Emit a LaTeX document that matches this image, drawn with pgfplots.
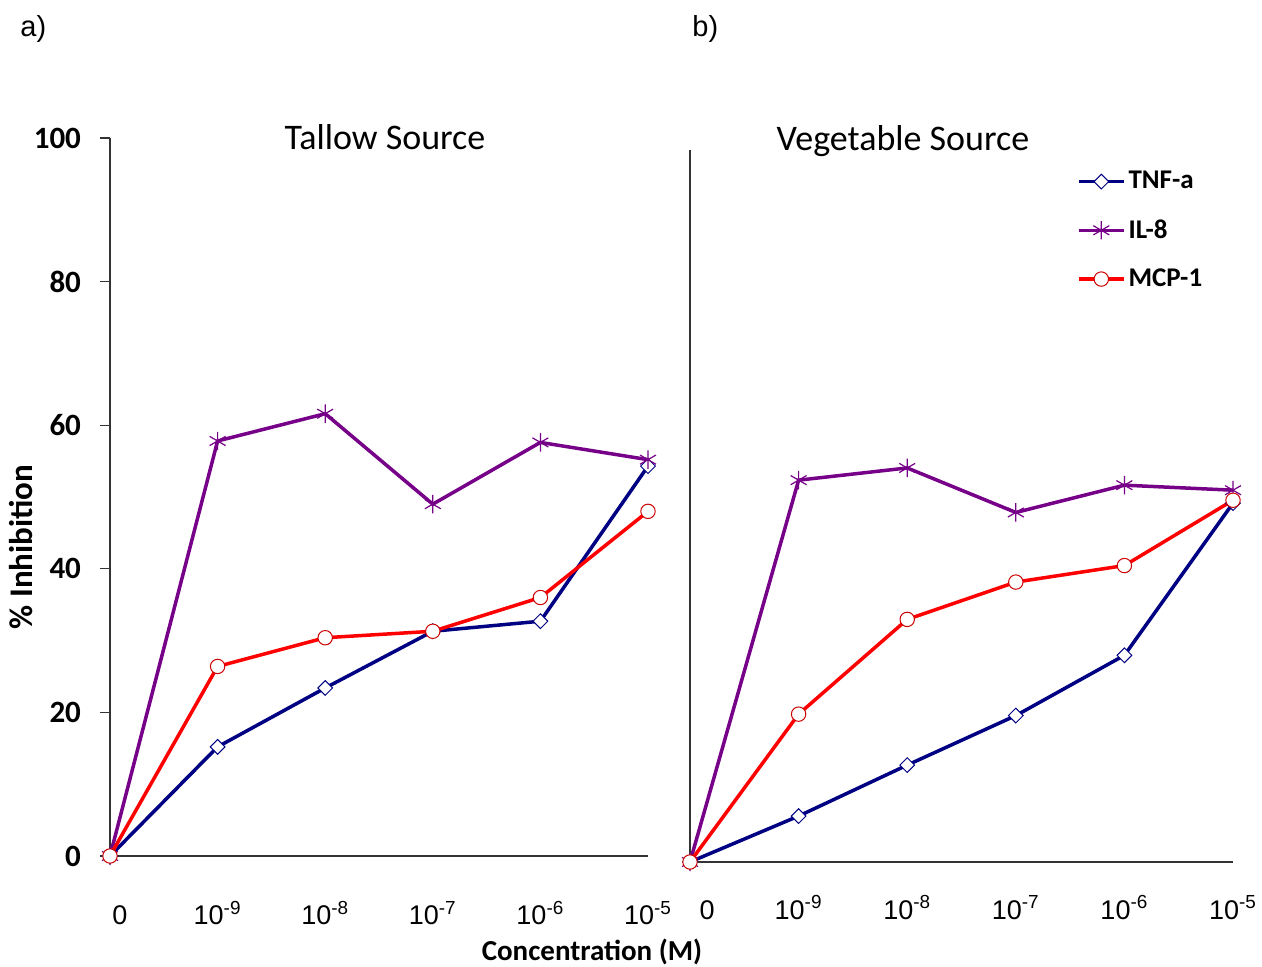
\documentclass[border=0pt]{standalone}
\usepackage{pgfplots}
\pgfplotsset{compat=1.18}
\usepackage{fontspec}
\setmainfont{Carlito}
\newfontfamily\arial{Liberation Sans}
\definecolor{tnf}{RGB}{0,0,130}
\definecolor{ilc}{RGB}{118,0,136}
\definecolor{mcp}{RGB}{255,0,0}

\pgfplotsset{
  panel/.style={
    scale only axis, anchor=south west,
    xmin=0, xmax=5, ymin=0,
    axis x line=bottom, axis y line=left,
    axis line style={-, draw=black!80, line width=0.6pt},
    clip=false,
    xtick={0,...,5},
    major x tick style={draw=none},
    xticklabel style={font=\arial\fontsize{13.5}{15}\selectfont, anchor=base, yshift=-29.5pt},
  },
  tnfs/.style={tnf, line width=1.75pt, mark=square*, mark size=2.6pt,
    mark options={rotate=45, fill=white, draw=tnf, line width=0.5pt}},
  ils/.style={ilc, line width=1.75pt, mark=asterisk, mark size=4.6pt,
    mark options={draw=ilc, line width=0.6pt}},
  mcps/.style={mcp, line width=1.75pt, mark=*, mark size=3.6pt,
    mark options={fill=white, draw=mcp!80!black, line width=0.5pt}},
}

\begin{document}
\begin{tikzpicture}
\path (0,0) rectangle (631pt,483.5pt);

% ---------- a) Tallow source ----------
\begin{axis}[panel,
  at={(55pt,55.5pt)},
  width=269pt, height=359pt,
  ymax=100,
  ytick={0,20,...,100},
  tick align=outside, major tick length=5pt,
  major y tick style={draw=black!80, line width=0.6pt},
  yticklabel style={font=\bfseries\fontsize{15.5}{16}\selectfont, /pgf/number format/assume math mode=true, xshift=-6pt},
  xticklabels={\hspace*{10pt}0, 10\textsuperscript{-9}, 10\textsuperscript{-8}, 10\textsuperscript{-7}, 10\textsuperscript{-6}, 10\textsuperscript{-5}},
]
\addplot[tnfs] coordinates {(0,0) (1,15.2) (2,23.4) (3,31.3) (4,32.7) (5,54.3)};
\addplot[ils] coordinates {(0,0) (1,57.8) (2,61.6) (3,49.0) (4,57.6) (5,55.2)};
\addplot[mcps] coordinates {(0,0) (1,26.4) (2,30.4) (3,31.3) (4,36.0) (5,48.0)};
\end{axis}

% ---------- b) Vegetable source ----------
\begin{axis}[panel,
  at={(345pt,52.5pt)},
  width=271.5pt, height=356pt,
  ymax=99.2,
  ytick=\empty,
  xticklabel style={yshift=3pt},
  xticklabels={\hspace*{17pt}0, 10\textsuperscript{-9}, 10\textsuperscript{-8}, 10\textsuperscript{-7}, 10\textsuperscript{-6}, 10\textsuperscript{-5}},
  legend style={draw=none, fill=none, at={(axis cs:3.564,96.5)}, anchor=north west,
    inner sep=0pt, outer sep=0pt,
    font=\bfseries\fontsize{13.5}{14}\selectfont,
    nodes={inner xsep=1.5pt, inner ysep=1pt},
    row sep=11.8pt},
  legend cell align=left,
  legend image code/.code={\draw[mark repeat=2,mark phase=2,#1] plot coordinates {(0pt,0pt) (11.25pt,0pt) (22.5pt,0pt)};},
]
\addplot[tnfs] coordinates {(0,0) (1,6.4) (2,13.5) (3,20.4) (4,28.8) (5,50.0)};
\addlegendentry{TNF-a}
\addplot[ils] coordinates {(0,0) (1,53.2) (2,54.9) (3,48.7) (4,52.5) (5,51.8)};
\addlegendentry{IL-8}
\addplot[mcps] coordinates {(0,0) (1,20.6) (2,33.8) (3,39.0) (4,41.3) (5,50.4)};
\addlegendentry{MCP-1}
\end{axis}

% ---------- texts ----------
\node[anchor=base, font=\fontsize{18}{20}\selectfont] at (192.5pt,408.5pt) {Tallow Source};
\node[anchor=base, font=\fontsize{18}{20}\selectfont] at (451.5pt,408pt) {Vegetable Source};
\node[anchor=base west, inner sep=0pt, font=\arial\fontsize{14.5}{16}\selectfont] at (10pt,465pt) {a)};
\node[anchor=base west, inner sep=0pt, font=\arial\fontsize{14.5}{16}\selectfont] at (346pt,465pt) {b)};
\node[rotate=90, font=\bfseries\fontsize{16.5}{18}\selectfont] at (10.5pt,210pt) {\% Inhibition};
\node[anchor=base, font=\bfseries\fontsize{14.5}{16}\selectfont] at (296pt,3pt) {Concentration (M)};

\pgfresetboundingbox
\path[use as bounding box] (0,0) rectangle (631pt,483.5pt);
\end{tikzpicture}
\end{document}
